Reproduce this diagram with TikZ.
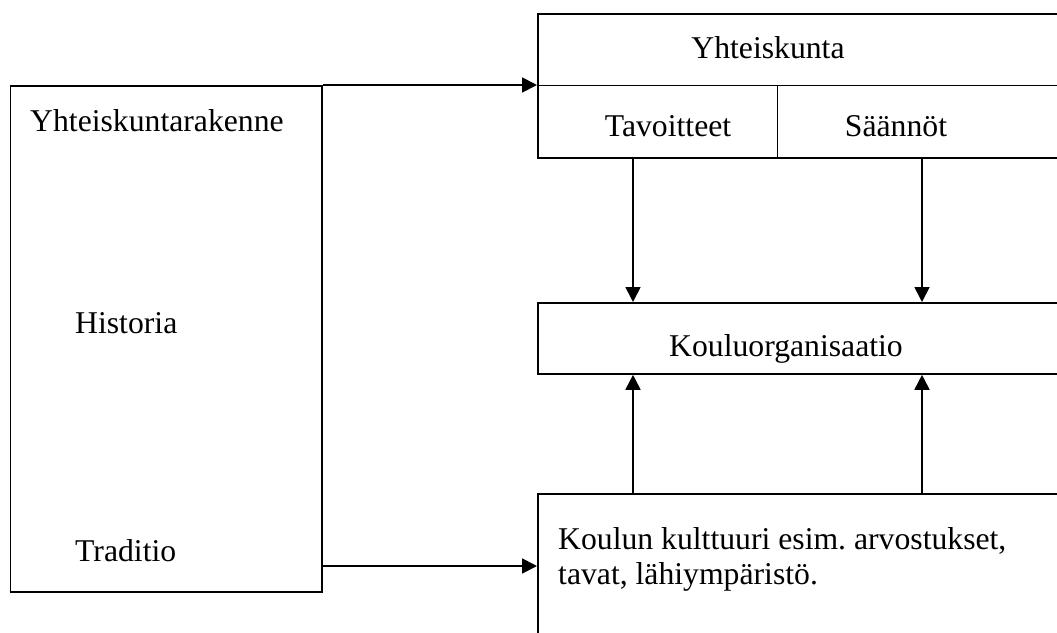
\documentclass[tikz,border=0pt]{standalone}
\usepackage{fontspec}
\setmainfont{Liberation Serif}
\usetikzlibrary{arrows.meta,calc}
\begin{document}
\begin{tikzpicture}[x=1pt,y=-1pt,
  box/.style={draw,line width=1.8pt,inner sep=0pt,anchor=north west},
  lbl/.style={inner sep=0pt,font=\fontsize{31.7}{35.5}\selectfont},
  rule/.style={line width=1.8pt},
  arr/.style={line width=1.8pt,-{Triangle[length=15pt,width=15pt]}}]
\useasboundingbox (0,0) rectangle (1057,632);
\clip (0,0) rectangle (1057,632);

% boxes
\node[box,minimum width=311.5pt,minimum height=506pt] (lb) at (9.5,85) {};
\node[box,minimum width=600pt,minimum height=144pt] (tb) at (537,13) {};
\node[box,minimum width=600pt,minimum height=71pt] (ko) at (537,302) {};
\node[box,minimum width=600pt,minimum height=200pt] (bb) at (537,493) {};

% inner rules of the society box
\coordinate (tdiv) at (537,85.5);
\coordinate (vdiv) at (777.5,85.5);
\draw[rule] (tdiv) -- (tdiv -| tb.east);
\draw[rule] (vdiv) -- (vdiv |- tb.south);

% texts
\node[lbl,anchor=base] (yk) at (768,58.5) {Yhteiskunta};
\node[lbl,anchor=base] (tav) at (668,136) {Tavoitteet};
\node[lbl,anchor=base] (saa) at (896,136) {Säännöt};
\node[lbl,anchor=base west] (ykr) at (30,131) {Yhteiskuntarakenne};
\node[lbl,anchor=base west] (his) at (75,333) {Historia};
\node[lbl,anchor=base west] (tra) at (75,561) {Traditio};
\node[lbl,anchor=base] (kot) at (786,356) {Kouluorganisaatio};
\node[lbl,anchor=base west] (kk1) at (558,549) {Koulun kulttuuri esim.\ arvostukset,};
\node[lbl,anchor=base west] (kk2) at (558,584) {tavat, lähiympäristö.};

% connectors
\coordinate (xa) at (633,0);
\coordinate (xb) at (922,0);
\coordinate (lbout) at (321,566);
\draw[arr] (lb.north east) -- (lb.north east -| tb.west);
\draw[arr] (lbout) -- (lbout -| bb.west);
\draw[arr] (tb.south -| xa) -- (ko.north -| xa);
\draw[arr] (tb.south -| xb) -- (ko.north -| xb);
\draw[arr] (bb.north -| xa) -- (ko.south -| xa);
\draw[arr] (bb.north -| xb) -- (ko.south -| xb);
\end{tikzpicture}
\end{document}
